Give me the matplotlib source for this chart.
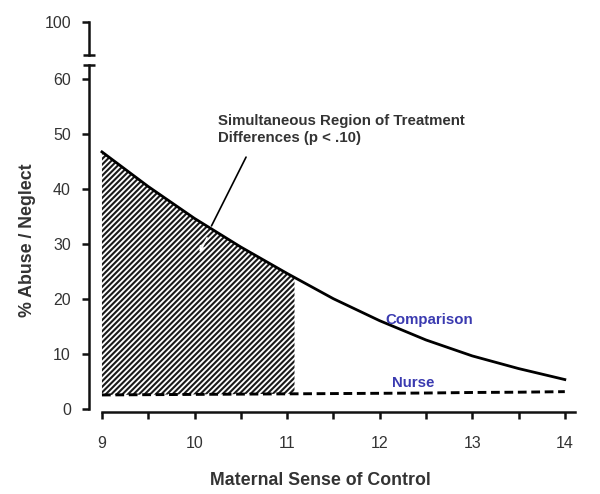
import numpy as np
import matplotlib.pyplot as plt

# ---------------------------------------------------------------------------
# Data
# ---------------------------------------------------------------------------
sense_of_control = [9, 9.5, 10, 10.5, 11, 11.5, 12, 12.5, 13, 13.5, 14]
comparison_pct = [46.7, 40.4, 34.6, 29.4, 24.6, 20.0, 16.0, 12.5, 9.6, 7.3, 5.3]
nurse_pct = [2.5, 2.55, 2.6, 2.65, 2.7, 2.75, 2.8, 2.85, 2.95, 3.0, 3.1]

region_end = 11.08          # right edge of the simultaneous region
x_ticks = [9, 10, 11, 12, 13, 14]
y_ticks = [0, 10, 20, 30, 40, 50, 60]
top_tick = 100

FONT = ["Liberation Sans", "DejaVu Sans"]
plt.rcParams["font.family"] = FONT
plt.rcParams["hatch.linewidth"] = 1.5
plt.rcParams["hatch.color"] = "#1a1a1a"

LABEL_C = "#333333"
SERIES_C = "#3a3ab0"

fig = plt.figure(figsize=(6.0, 4.94), dpi=100)

# main (lower) axis and small top stub of the broken y axis
ax = fig.add_axes([89 / 600, 82 / 494, 486 / 600, 347 / 494])
ax_top = fig.add_axes([89 / 600, 439 / 494, 486 / 600, 33 / 494])

x = np.array(sense_of_control)
comp = np.array(comparison_pct)
nurse = np.array(nurse_pct)

# hatched region between the two curves, 9 .. region_end
in_region = x <= region_end
rx = np.append(x[in_region], region_end)
r_top = np.append(comp[in_region], np.interp(region_end, x, comp))
r_bot = np.append(nurse[in_region], np.interp(region_end, x, nurse))
ax.fill_between(rx, r_bot, r_top, facecolor="white", edgecolor="#1a1a1a",
                hatch="//////", linewidth=0, zorder=1)

ax.plot(x, comp, color="black", lw=2.0, zorder=3)
ax.plot(x, nurse, color="black", lw=2.1, linestyle=(0, (3.0, 1.6)), zorder=3)

ax.text(12.53, 16.2, "Comparison", color=SERIES_C, fontsize=10.8,
        fontweight="bold", ha="center", va="center")
ax.text(12.36, 4.7, "Nurse", color=SERIES_C, fontsize=10.8,
        fontweight="bold", ha="center", va="center")

ax.text(10.25, 53.6, "Simultaneous Region of Treatment\nDifferences (p < .10)",
        fontsize=10.8, fontweight="bold", color=LABEL_C, ha="left", va="top",
        linespacing=1.3)
ax.annotate("", xy=(10.17, 32.8), xytext=(10.57, 46.2),
            arrowprops=dict(arrowstyle="-", color="black", lw=1.2))
ax.annotate("", xy=(10.04, 28.0), xytext=(10.15, 31.5),
            arrowprops=dict(arrowstyle="->", color="white", lw=1.2,
                            mutation_scale=8))

# axes styling
ax.set_xlim(8.86, 14.11)
ax.set_ylim(-0.6, 62.5)
ax.set_xticks(x_ticks)
ax.set_xticks(sense_of_control, minor=True)
ax.set_yticks(y_ticks)
ax.set_yticks([62.5], minor=True)
for side in ("top", "right"):
    ax.spines[side].set_visible(False)
ax.spines["left"].set_bounds(0, 62.5)
ax.spines["bottom"].set_bounds(9, 14.11)
for side in ("left", "bottom"):
    ax.spines[side].set_linewidth(1.8)
    ax.spines[side].set_color("#111111")
ax.tick_params(axis="both", which="both", direction="out", length=5,
               width=1.8, color="#111111", labelsize=11.5, labelcolor=LABEL_C)
ax.tick_params(axis="x", pad=12)
ax.tick_params(axis="y", pad=8)
ax.tick_params(axis="y", which="minor", direction="inout", length=8)

ax_top.set_ylim(94, 100)
ax_top.set_xlim(ax.get_xlim())
ax_top.set_yticks([top_tick])
ax_top.set_yticks([94], minor=True)
ax_top.set_xticks([])
for side in ("top", "right", "bottom"):
    ax_top.spines[side].set_visible(False)
ax_top.spines["left"].set_linewidth(1.8)
ax_top.spines["left"].set_color("#111111")
ax_top.patch.set_alpha(0)
ax_top.tick_params(axis="y", which="both", direction="out", length=5,
                   width=1.8, color="#111111", labelsize=11.5,
                   labelcolor=LABEL_C, pad=8)
ax_top.tick_params(axis="y", which="minor", direction="inout", length=8)

fig.text(320 / 600, 1 - 480 / 494, "Maternal Sense of Control", fontsize=12.8,
         fontweight="bold", color=LABEL_C, ha="center", va="center")
fig.text(28 / 600, 1 - 240 / 494, "% Abuse / Neglect", fontsize=12.8,
         fontweight="bold", color=LABEL_C, ha="center", va="center",
         rotation=90)

fig.savefig("out.png", dpi=100)
